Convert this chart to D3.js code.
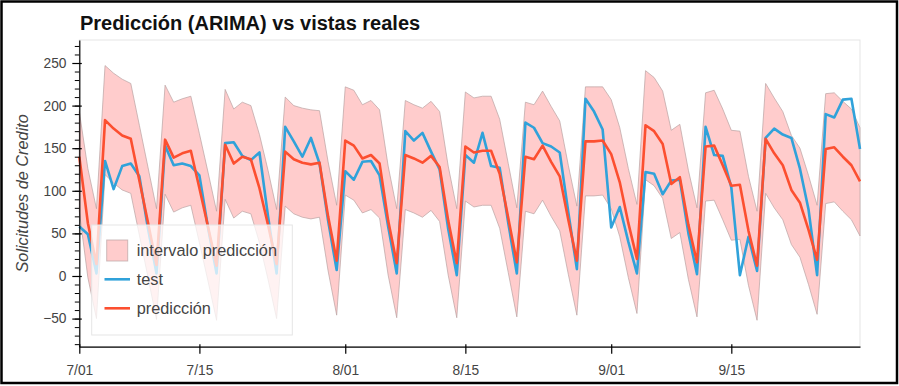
<!DOCTYPE html>
<meta charset="utf-8">
<style>
body { margin: 0; background: #fff; }
text { font-family: "Liberation Sans", Arial, sans-serif; }
</style>
<body>
<script src="https://d3js.org/d3.v7.min.js"></script>
<script>

// daily data, 7/01 to 9/30
var dias = d3.timeDay.range(new Date(2016, 6, 1), new Date(2016, 9, 1));

var test = [58, 49, 3,
  135, 102, 129, 132, 117, 56, 3,
  153, 130, 132, 129, 118, 57, 3,
  156, 157, 141, 136, 145, 70, 3,
  175, 158, 140, 162, 132, 65, 7,
  123, 113, 134, 135, 118, 58, 3,
  170, 159, 168, 146, 125, 55, 1,
  142, 133, 168, 129, 127, 62, 3,
  180, 174, 156, 152, 145, 75, 8,
  208, 193, 172, 57, 81, 40, 3,
  122, 120, 96, 112, 113, 50, 2,
  175, 142, 141, 104, 1, 46, 6,
  162, 173, 166, 162, 126, 78, 1,
  190, 186, 207, 208, 149];

var prediccion = [140, 62, 14,
  183, 173, 165, 161, 112, 63, 13,
  160, 139, 144, 147, 103, 58, 12,
  154, 132, 140, 137, 103, 60, 14,
  146, 137, 133, 131, 133, 70, 18,
  159, 153, 138, 142, 132, 65, 15,
  142, 138, 133, 141, 128, 65, 15,
  152, 145, 147, 147, 120, 68, 16,
  140, 137, 153, 134, 117, 66, 18,
  158, 158, 159, 143, 110, 62, 20,
  177, 170, 155, 108, 116, 60, 16,
  152, 153, 130, 106, 107, 53, 12,
  161, 144, 130, 101, 86, 54, 19,
  149, 151, 140, 130, 111];

var superior = [193, 126, 79,
  247, 238, 231, 226, 177, 128, 79,
  224, 204, 208, 211, 167, 122, 76,
  219, 196, 204, 200, 166, 124, 78,
  210, 200, 197, 195, 194, 134, 83,
  222, 218, 201, 206, 195, 129, 79,
  206, 201, 197, 205, 193, 129, 79,
  216, 209, 211, 211, 184, 132, 80,
  204, 201, 217, 199, 182, 130, 82,
  222, 222, 222, 207, 174, 126, 84,
  241, 233, 217, 171, 178, 124, 80,
  215, 218, 196, 171, 170, 117, 76,
  226, 209, 193, 165, 150, 118, 83,
  214, 215, 205, 196, 174];

var inferior = [76, -2, -50,
  119, 109, 101, 97, 48, -1, -51,
  96, 75, 80, 83, 39, -6, -52,
  90, 68, 76, 73, 39, -4, -50,
  82, 73, 69, 67, 69, 6, -46,
  95, 89, 74, 78, 68, 1, -49,
  78, 74, 69, 77, 64, 1, -49,
  88, 81, 83, 83, 56, 4, -48,
  76, 73, 89, 70, 53, 2, -46,
  94, 94, 95, 79, 46, -2, -44,
  113, 106, 91, 44, 51, -4, -48,
  88, 89, 66, 42, 43, -11, -52,
  97, 80, 66, 37, 22, -10, -45,
  85, 87, 76, 66, 47];

var yTicks = [-50, 0, 50, 100, 150, 200, 250];
var xTicks = [new Date(2016, 6, 1), new Date(2016, 6, 15), new Date(2016, 7, 1),
              new Date(2016, 7, 15), new Date(2016, 8, 1), new Date(2016, 8, 15)];

var azul = "#30a2da", rojo = "#fc4f30", rosa = "#ffcccc";

var W = 899, H = 386;
var plot = {left: 79.3, right: 860, top: 40, bottom: 346.7};

var svg = d3.select("body").append("svg")
    .attr("width", W)
    .attr("height", H);

svg.append("rect")
    .attr("width", W).attr("height", H)
    .attr("fill", "#fff");

// scales
var x = d3.scaleTime()
    .domain([dias[0], dias[dias.length - 1]])
    .range([plot.left, plot.right]);
var y = d3.scaleLinear()
    .domain([-83, 277])
    .range([plot.bottom, plot.top]);

// plot frame
svg.append("rect")
    .attr("x", plot.left).attr("y", plot.top)
    .attr("width", plot.right - plot.left)
    .attr("height", plot.bottom - plot.top)
    .attr("fill", "none")
    .attr("stroke", "#e5e5e5")
    .attr("stroke-width", 1);

var datos = dias.map(function(d, i) {
  return {fecha: d, test: test[i], pred: prediccion[i], lo: inferior[i], hi: superior[i]};
});

// prediction interval
svg.append("path")
    .datum(datos)
    .attr("fill", rosa)
    .attr("stroke", "#b9a3a3")
    .attr("stroke-opacity", 0.7)
    .attr("stroke-width", 1)
    .attr("d", d3.area()
        .x(function(d) { return x(d.fecha); })
        .y0(function(d) { return y(d.lo); })
        .y1(function(d) { return y(d.hi); }));

var linea = function(campo) {
  return d3.line()
      .x(function(d) { return x(d.fecha); })
      .y(function(d) { return y(d[campo]); });
};

svg.append("path")
    .datum(datos)
    .attr("fill", "none")
    .attr("stroke", azul)
    .attr("stroke-width", 2.6)
    .attr("stroke-linejoin", "round")
    .attr("d", linea("test"));

svg.append("path")
    .datum(datos)
    .attr("fill", "none")
    .attr("stroke", rojo)
    .attr("stroke-width", 2.6)
    .attr("stroke-linejoin", "round")
    .attr("d", linea("pred"));

// y axis with minor ticks
svg.append("g")
    .attr("transform", "translate(" + plot.left + ",0)")
    .call(d3.axisLeft(y).tickValues(d3.range(-80, 271, 10)).tickSize(4.5).tickFormat(""))
    .call(function(g) { g.select(".domain").remove(); })
    .selectAll("line").attr("stroke", "#000");

var yAxis = svg.append("g")
    .attr("transform", "translate(" + plot.left + ",0)")
    .call(d3.axisLeft(y).tickValues(yTicks).tickSizeInner(7).tickSizeOuter(0).tickPadding(5));
yAxis.select(".domain").attr("stroke", "#000").attr("stroke-width", 1.2);
yAxis.selectAll(".tick line").attr("x2", -7).attr("x1", 2.5).attr("stroke", "#000").attr("stroke-width", 1.2);
yAxis.selectAll("text")
    .attr("x", -12.8)
    .attr("fill", "#444")
    .style("font-size", "13.75px");

var xAxis = svg.append("g")
    .attr("transform", "translate(0," + plot.bottom + ")")
    .call(d3.axisBottom(x).tickValues(xTicks).tickFormat(d3.timeFormat("%-m/%d")).tickSizeOuter(0));
xAxis.select(".domain").attr("stroke", "#000").attr("stroke-width", 1.2);
xAxis.selectAll(".tick line").attr("y1", -2.5).attr("y2", 7).attr("stroke", "#000").attr("stroke-width", 1.2);
xAxis.selectAll("text")
    .attr("y", 19)
    .attr("fill", "#444")
    .style("font-size", "13.75px");

// y axis label
svg.append("text")
    .attr("transform", "translate(28," + ((plot.top + plot.bottom) / 2) + ") rotate(-90)")
    .attr("text-anchor", "middle")
    .attr("fill", "#444")
    .style("font-style", "italic")
    .style("font-size", "16.3px")
    .text("Solicitudes de Credito");

// title
svg.append("text")
    .attr("x", 80).attr("y", 30)
    .attr("fill", "#111")
    .style("font-weight", "bold")
    .style("font-size", "20px")
    .text("Predicción (ARIMA) vs vistas reales");

// legend
var leg = svg.append("g");
leg.append("rect")
    .attr("x", 91.7).attr("y", 225)
    .attr("width", 200.6).attr("height", 110)
    .attr("fill", "#fff").attr("fill-opacity", 0.75)
    .attr("stroke", "#e5e5e5");
leg.append("rect")
    .attr("x", 106.7).attr("y", 240)
    .attr("width", 21).attr("height", 21)
    .attr("fill", rosa).attr("stroke", "#b9a3a3").attr("stroke-opacity", 0.7);
leg.append("line")
    .attr("x1", 104.5).attr("x2", 130).attr("y1", 279.3).attr("y2", 279.3)
    .attr("stroke", azul).attr("stroke-width", 2.6);
leg.append("line")
    .attr("x1", 104.5).attr("x2", 130).attr("y1", 308.3).attr("y2", 308.3)
    .attr("stroke", rojo).attr("stroke-width", 2.6);
var nombres = ["intervalo predicción", "test", "predicción"];
leg.selectAll("text.item")
    .data(nombres)
  .enter().append("text")
    .attr("class", "item")
    .attr("x", 136.7)
    .attr("y", function(d, i) { return 255.5 + i * 29; })
    .attr("fill", "#444")
    .style("font-size", "16.3px")
    .text(function(d) { return d; });

// outer border
svg.append("rect")
    .attr("x", 1.5).attr("y", 1.5)
    .attr("width", W - 3.5).attr("height", H - 4.5)
    .attr("fill", "none")
    .attr("stroke", "#000")
    .attr("stroke-width", 2.5);

</script>
</body>
